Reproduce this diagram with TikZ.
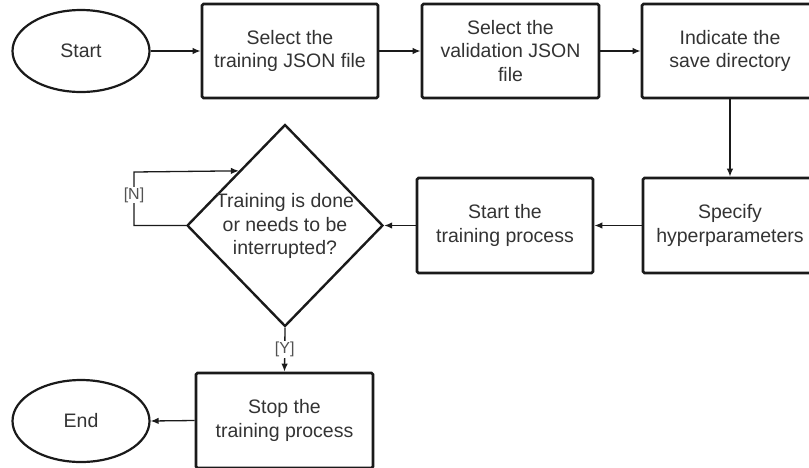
\documentclass[tikz,border=0pt]{standalone}
\usepackage{fontspec}
\setmainfont{Liberation Sans}
\usetikzlibrary{shapes.geometric,arrows.meta,calc}
\definecolor{txtgray}{HTML}{333333}
\definecolor{linegray}{HTML}{1A1A1A}
\begin{document}
\begin{tikzpicture}[x=1pt,y=-1pt,
  every node/.style={font=\fontsize{19.5}{23.5}\selectfont, text=txtgray, align=center},
  procbox/.style={draw=linegray, line width=2.8pt, rounded corners=1.5pt, rectangle, inner sep=0pt},
  termin/.style={draw=linegray, line width=2.2pt, ellipse, inner sep=0pt, minimum width=137pt, minimum height=82pt},
  decide/.style={draw=linegray, line width=2.4pt, diamond, inner sep=0pt, minimum width=196pt, minimum height=202pt},
  conn/.style={draw=linegray, line width=1.3pt, -{Latex[length=8pt,width=6.5pt]}},
  lbl/.style={font=\fontsize{16}{18}\selectfont, fill=white, inner sep=1pt, text=txtgray!85}
]
\useasboundingbox (0,0) rectangle (809,467);
\clip (0,0) rectangle (809,467);

\node[termin] (start) at (81,51) {Start};
\node[procbox, minimum width=176pt, minimum height=94pt] (b1) at (290,51) {Select the\\training JSON file};
\node[procbox, minimum width=177pt, minimum height=94pt] (b2) at (510.5,51) {Select the\\validation JSON\\file};
\node[procbox, minimum width=176pt, minimum height=94pt] (b3) at (730,51) {Indicate the\\save directory};
\node[procbox, minimum width=174pt, minimum height=95pt] (b4) at (730,225.5) {Specify\\hyperparameters};
\node[procbox, minimum width=176pt, minimum height=95pt] (b5) at (505,225.5) {Start the\\training process};
\node[decide] (d) at (285,225.5) {};
\node (dtext) at (285,226) {Training is done\\or needs to be\\interrupted?};
\node[procbox, minimum width=177pt, minimum height=95pt] (b6) at (284.5,420.5) {Stop the\\training process};
\node[termin] (end) at (81,421) {End};

\coordinate (nw1) at (134,225.5);
\coordinate (nw2) at (134,172);
\coordinate (nin) at ($(d.west)!0.535!(d.north)$);

\draw[conn] (start.east) -- (b1.west);
\draw[conn] (b1.east) -- (b2.west);
\draw[conn] (b2.east) -- (b3.west);
\draw[conn] (b3.south) -- (b4.north);
\draw[conn] (b4.west) -- (b5.east);
\draw[conn] (b5.west) -- (d.east);
\draw[conn] (d.south) -- node[lbl, pos=0.5]{[Y]} (b6.north);
\draw[conn] (d.west) -- (nw1) -- node[lbl, pos=0.57]{[N]} (nw2) -- (nin);
\draw[conn] (b6.west) -- (end.east);
\end{tikzpicture}
\end{document}
